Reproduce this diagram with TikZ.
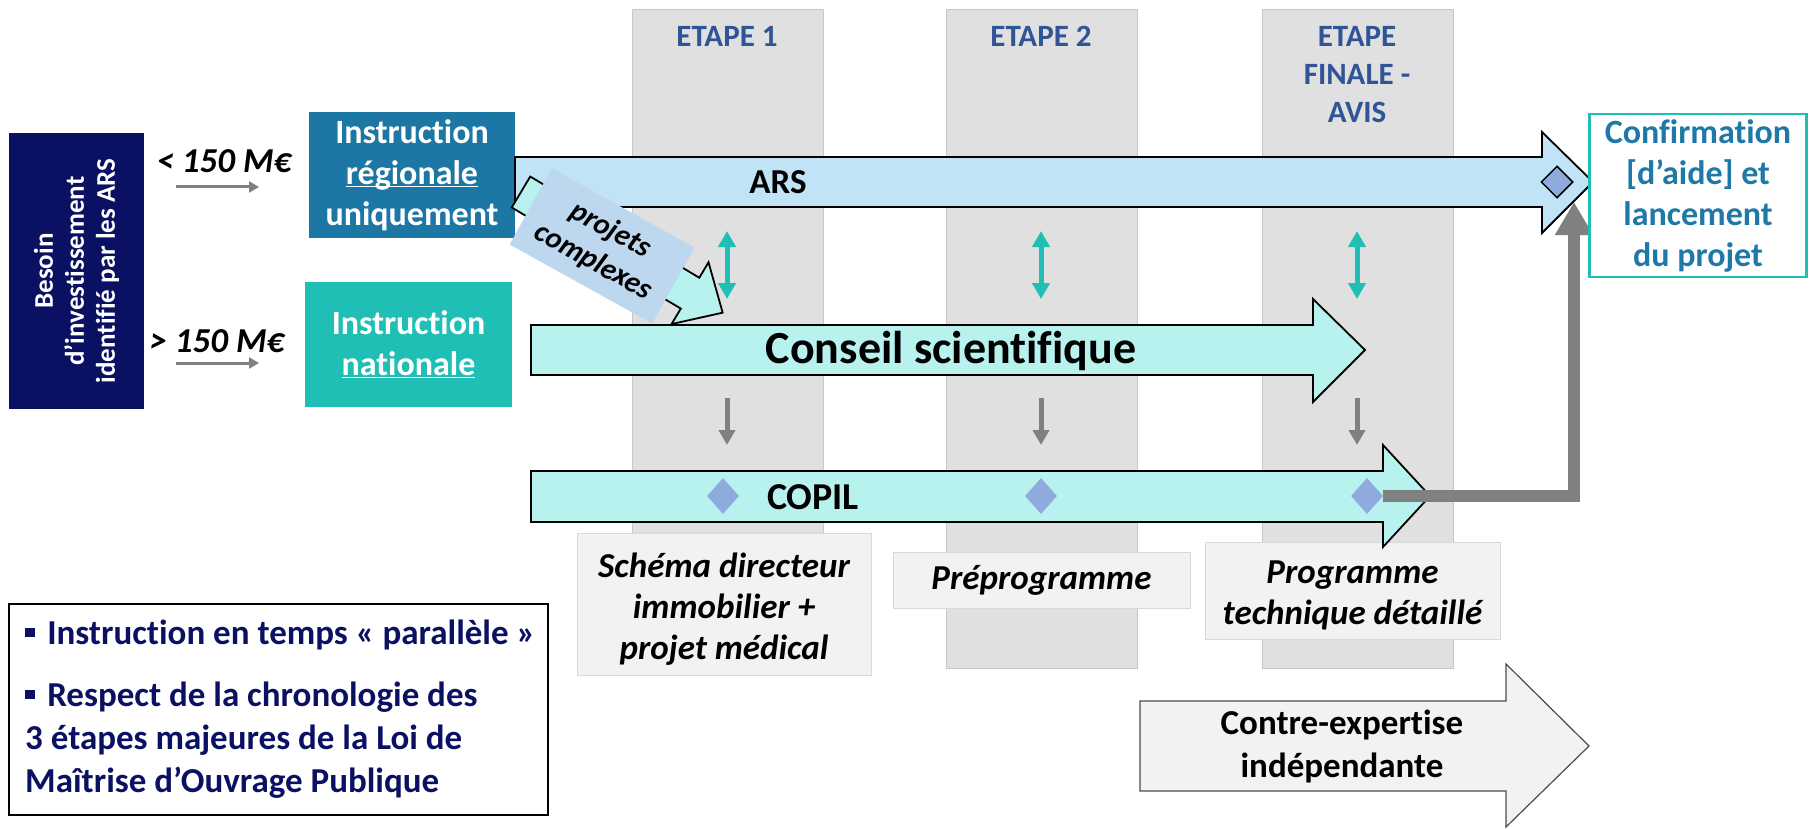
\documentclass[tikz,border=0pt]{standalone}
\usepackage{fontspec}
\setmainfont{Carlito}[Ligatures=NoCommon]
\usetikzlibrary{shapes.geometric,arrows.meta}
\definecolor{navy}{HTML}{0A1062}
\definecolor{regblue}{HTML}{1C77A4}
\definecolor{natteal}{HTML}{20BFB5}
\definecolor{colgray}{HTML}{E0E0E0}
\definecolor{arsblue}{HTML}{C0E3F5}
\definecolor{cyanfill}{HTML}{B7F2EE}
\definecolor{projblue}{HTML}{BDD7EE}
\definecolor{diamblue}{HTML}{8FAADC}
\definecolor{labgray}{HTML}{F2F2F2}
\definecolor{etapeblue}{HTML}{2F5597}
\definecolor{confblue}{HTML}{1E78A8}
\newcommand{\fsz}[2]{\fontsize{#1}{#2}\selectfont}
\newcommand{\undl}[1]{\setbox0=\hbox{#1}\copy0\llap{\rule[-0.09em]{\wd0}{0.05em}}}
\newcommand{\sqbul}{\raisebox{0.2em}{\rule{0.28em}{0.28em}}\hspace{0.35em}}

\begin{document}
\begin{tikzpicture}[x=1pt,y=-1pt,line join=miter,
  box/.style={inner sep=0,align=center,text=white,font=\fsz{34}{41}\bfseries},
  col/.style={fill=colgray,draw=black!22,line width=.8},
  lab/.style={fill=labgray,draw=black!15,line width=.8,inner sep=0,align=center,font=\fsz{35}{41}\bfseries\itshape},
  etape/.style={text=etapeblue,align=center,font=\fsz{31}{38}\bfseries,inner sep=0},
  blk/.style={draw=black,line width=1.8},
  dia/.style={diamond,fill=diamblue,inner sep=0,minimum width=32,minimum height=36},
  txt/.style={inner sep=0,align=center,font=\fsz{35}{43}\bfseries},
  thin/.style={draw=black!50,line width=3,-{Triangle[width=11pt,length=10pt]}},
  tealarr/.style={draw=natteal,line width=5,{Triangle[width=17pt,length=16pt]}-{Triangle[width=17pt,length=16pt]}},
  downarr/.style={draw=black!50,line width=5,-{Triangle[width=16pt,length=15pt]}}]
\useasboundingbox (0,0) rectangle (1809,829);
\foreach \x in {632,946,1262} \draw[col] (\x,9) rectangle +(191,659);
\node[etape] (e1) at (727,36) {ETAPE 1};
\node[etape] (e2) at (1041,36) {ETAPE 2};
\node[etape] (e3) at (1357,75) {ETAPE\\FINALE -\\AVIS};

\node[box,fill=navy,minimum width=276,minimum height=135,rotate=90,font=\fsz{27}{31}\bfseries] (besoin) at (76.5,271) {Besoin\\d’investissement\\identifié par les ARS};
\node[box,fill=regblue,minimum width=206,minimum height=126] (reg) at (412,175) {Instruction\\\undl{régionale}\\uniquement};
\node[box,fill=natteal,minimum width=207,minimum height=125] (nat) at (408.5,344.5) {Instruction\\\undl{nationale}};
\node[txt,font=\fsz{35}{41}\bfseries\itshape] (lt) at (224,161) {< 150 M€};
\node[txt,font=\fsz{35}{41}\bfseries\itshape] (gt) at (217,341) {> 150 M€};
\coordinate (a1) at (176,187); \coordinate (a2) at (259,187); \draw[thin] (a1) -- (a2);
\coordinate (b1) at (176,363); \coordinate (b2) at (259,363); \draw[thin] (b1) -- (b2);

\node[lab,minimum width=294,minimum height=142] (schema) at (724,604) {};
\node[lab,draw=none,fill=none] (schtxt) at (724,609) {Schéma directeur\\immobilier +\\projet médical};
\node[lab,minimum width=297,minimum height=56] (prepro) at (1041.5,580) {Préprogramme};
\node[lab,minimum width=295,minimum height=97] (prog) at (1352.5,590.5) {};
\node[lab,draw=none,fill=none] (progtxt) at (1352.5,595) {Programme\\technique détaillé};

\draw[blk,fill=arsblue] (515,157) -- (1542,157) -- (1542,132) -- (1593,182) -- (1542,233) -- (1542,207) -- (515,207) -- cycle;
\draw[blk,fill=cyanfill] (531,325) -- (1313,325) -- (1313,299) -- (1365,350) -- (1313,402) -- (1313,375) -- (531,375) -- cycle;
\draw[blk,fill=cyanfill] (531,471) -- (1383,471) -- (1383,445) -- (1430,496) -- (1383,547) -- (1383,522) -- (531,522) -- cycle;
\draw[draw=black!70,line width=1.2,fill=labgray] (1140,701) -- (1506,701) -- (1506,664) -- (1589,746) -- (1506,827) -- (1506,791) -- (1140,791) -- cycle;
\draw[blk,fill=cyanfill,shift={(521,192)},rotate=-30.9] (0,-18) -- (197,-18) -- (197,-36) -- (235,0) -- (197,36) -- (197,18) -- (0,18) -- cycle;
\node[fill=projblue,minimum width=163,minimum height=87,inner sep=0,rotate=-29,align=center,font=\fsz{30}{36}\bfseries\itshape] (proj) at (602,246) {projets\\complexes};

\node[txt] (ars) at (778,182) {ARS};
\node[txt,font=\fsz{46}{50}\bfseries] (cs) at (951,351) {Conseil scientifique};
\node[txt,font=\fsz{38}{40}\bfseries] (copil) at (813,497) {COPIL};
\node[txt] (ce) at (1342,746) {Contre-expertise\\indépendante};
\node[dia,draw=black,line width=1.5,minimum height=32] (d0) at (1557,182) {};
\node[dia] (d1) at (723,496) {};
\node[dia] (d2) at (1041,496) {};
\node[dia] (d3) at (1367,496) {};
\foreach \x [count=\i] in {727,1041,1357} {
  \coordinate (tu\i) at (\x,231); \coordinate (td\i) at (\x,299); \draw[tealarr] (tu\i) -- (td\i);
  \coordinate (gu\i) at (\x,398); \coordinate (gd\i) at (\x,445); \draw[downarr] (gu\i) -- (gd\i);
}
\coordinate (cfin) at (1574,202);
\draw[draw=black!50,line width=12,-{Triangle[width=36pt,length=33pt]}] (d3.east) -| (cfin);

\node[draw=natteal,line width=2.5,fill=white,minimum width=217,minimum height=163,inner sep=0,align=center,text=confblue,font=\fsz{34}{41}\bfseries] (conf) at (1698,195.5) {Confirmation\\{[d’aide]} et\\lancement\\du projet};
\node[draw=black,line width=2,minimum width=539,minimum height=211,inner sep=0] (note) at (278.5,709.5) {};
\node[anchor=west,inner sep=0,align=left,text=navy,font=\fsz{35}{43}\bfseries] (notetxt) at (25,709) {\sqbul Instruction en temps « parallèle »\\[19pt]\sqbul Respect de la chronologie des\\3 étapes majeures de la Loi de\\Maîtrise d’Ouvrage Publique};
\end{tikzpicture}
\end{document}
